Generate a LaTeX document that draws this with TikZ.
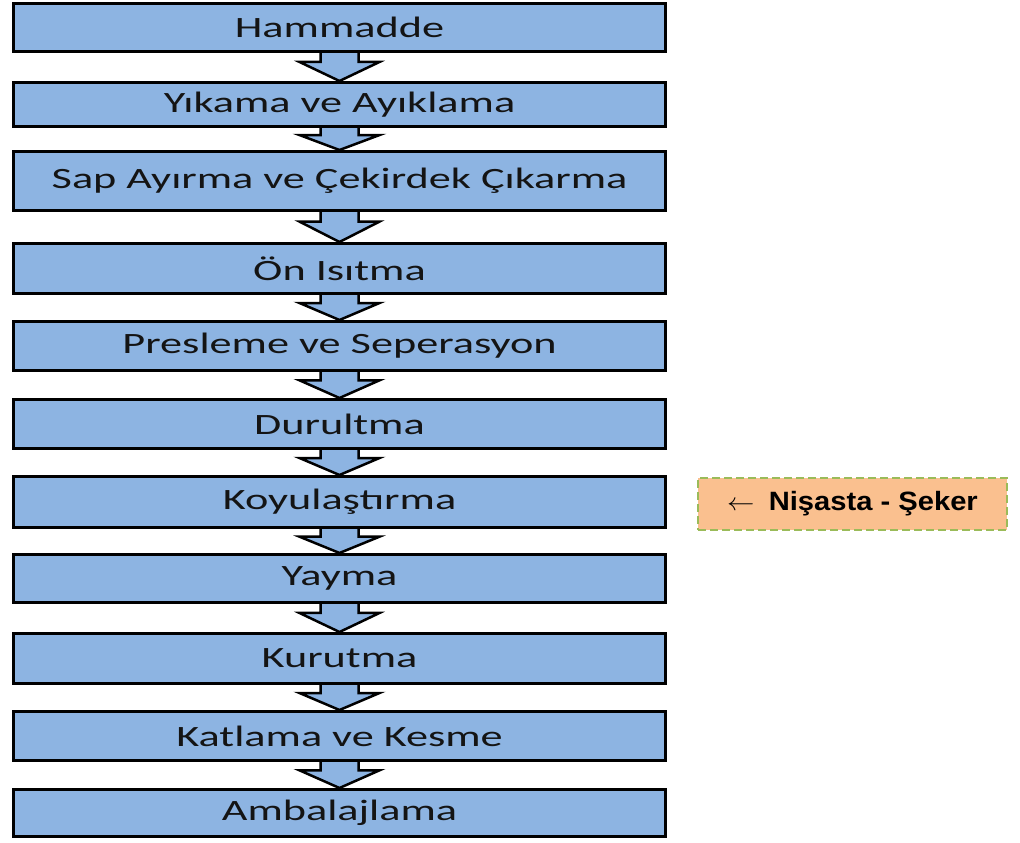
\documentclass[tikz,border=0pt]{standalone}
\usepackage{fontspec}
\usepackage{graphicx}
\usetikzlibrary{calc}
\newfontfamily\stepfont[FakeStretch=1.5]{Carlito}
\newfontfamily\notefont{Liberation Sans}
\definecolor{boxblue}{RGB}{141,180,226}
\definecolor{noteorange}{RGB}{250,192,143}
\definecolor{notegreen}{RGB}{155,187,89}
\pgfdeclarelayer{bg}
\pgfsetlayers{bg,main}
\newcommand\flowarrow[2]{%
  \draw[flowarrowstyle] let \p1=(#1.south), \p2=(#2.north), \n1={\y2+0.68*(\y1-\y2)} in
  (\x1-19pt,\y1+12pt) -- (\x1-19pt,\n1) -- (\x1-40pt,\n1) -- (\x2,\y2)
  -- (\x1+40pt,\n1) -- (\x1+19pt,\n1) -- (\x1+19pt,\y1+12pt);}
\begin{document}
\begin{tikzpicture}[x=1pt,y=-1pt,
  stepbox/.style={draw=black, line width=3pt, fill=boxblue, minimum width=652pt,
    inner sep=0pt, text=black!92, font=\stepfont\fontsize{29.5}{32}\selectfont},
  flowarrowstyle/.style={draw=black, line width=2.5pt, fill=boxblue, line join=miter},
  notebox/.style={draw=notegreen, line width=2.5pt, dash pattern=on 8pt off 4pt,
    fill=noteorange, minimum width=309pt, minimum height=52pt, inner sep=0pt,
    font=\notefont\bfseries\fontsize{26.5}{29}\selectfont}]
\useasboundingbox (0,0) rectangle (1020,843);
\node[stepbox, minimum height=48pt] (s1) at (339.5,27.5) {Hammadde};
\node[stepbox, minimum height=44pt] (s2) at (339.5,104.5) {Yıkama ve Ayıklama};
\node[stepbox, minimum height=59pt] (s3) at (339.5,181) {Sap Ayırma ve Çekirdek Çıkarma};
\node[stepbox, minimum height=50pt] (s4) at (339.5,268.5) {Ön Isıtma};
\node[stepbox, minimum height=49pt] (s5) at (339.5,346) {Presleme ve Seperasyon};
\node[stepbox, minimum height=49pt] (s6) at (339.5,424) {Durultma};
\node[stepbox, minimum height=51pt] (s7) at (339.5,502) {Koyulaştırma};
\node[stepbox, minimum height=48pt] (s8) at (339.5,578.5) {Yayma};
\node[stepbox, minimum height=50pt] (s9) at (339.5,658.5) {Kurutma};
\node[stepbox, minimum height=49pt] (s10) at (339.5,736) {Katlama ve Kesme};
\node[stepbox, minimum height=47pt] (s11) at (339.5,813) {Ambalajlama};
\begin{pgfonlayer}{bg}
\flowarrow{s1}{s2}
\flowarrow{s2}{s3}
\flowarrow{s3}{s4}
\flowarrow{s4}{s5}
\flowarrow{s5}{s6}
\flowarrow{s6}{s7}
\flowarrow{s7}{s8}
\flowarrow{s8}{s9}
\flowarrow{s9}{s10}
\flowarrow{s10}{s11}
\end{pgfonlayer}
\node[notebox] (note) at (852.5,504) {\scalebox{1.1}[1]{$\leftarrow$\hspace{13pt}Nişasta - Şeker}};
\end{tikzpicture}
\end{document}
